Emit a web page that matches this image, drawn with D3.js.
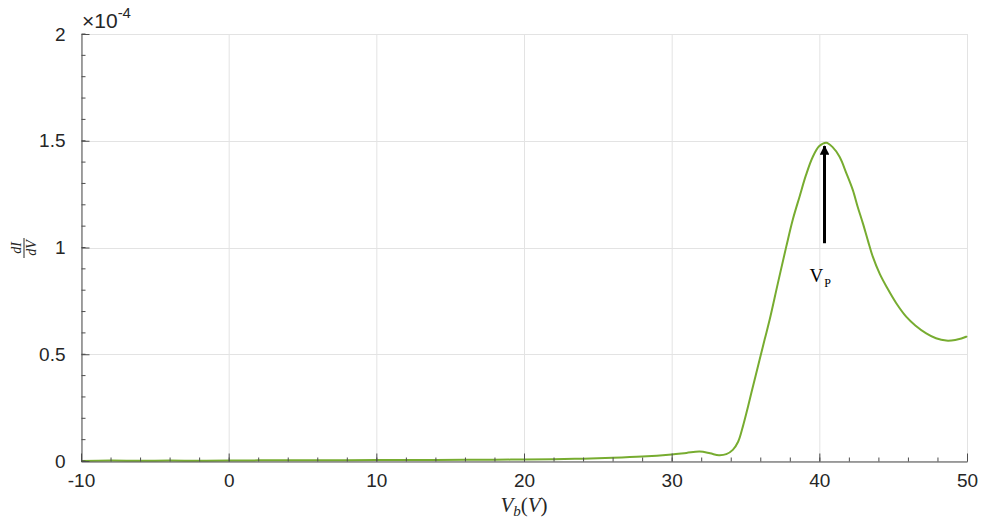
<!DOCTYPE html>
<html><head><meta charset="utf-8">
<script src="https://cdn.jsdelivr.net/npm/d3@7"></script>
<style>body{margin:0;background:#fff;} svg{display:block;}</style>
</head><body>
<svg id="chart" width="982" height="524"></svg>
<script>
// Bias voltage (V)
const vb = [-10,-8,-6,-4,-2,0,2,4,6,8,10,12,14,16,18,20,22,24,26,28,30,31,31.9,32.6,33.2,33.7,34.14,34.5,34.82,35.1,35.39,35.95,36.3,36.63,37.19,37.76,38.2,38.66,39.1,39.56,40.0,40.47,40.9,41.37,41.82,42.27,42.6,42.95,43.3,43.62,44.1,44.6,45.2,45.88,46.5,47.24,47.9,48.59,49.2,49.94,50];
// dI/dV in units of 1e-4
const didv = [0,0.002,0.001,0.002,0.001,0.002,0.003,0.003,0.004,0.004,0.005,0.005,0.005,0.006,0.006,0.007,0.008,0.011,0.015,0.021,0.031,0.038,0.044,0.036,0.027,0.032,0.052,0.09,0.161,0.235,0.317,0.473,0.57,0.66,0.832,1.004,1.13,1.238,1.34,1.425,1.475,1.491,1.47,1.425,1.35,1.269,1.19,1.113,1.03,0.957,0.875,0.81,0.74,0.676,0.635,0.598,0.575,0.564,0.567,0.582,0.585];
const xTicks = [-10,0,10,20,30,40,50];
const yTicks = [0,0.5,1,1.5,2];
const peakV = 40.35, arrowFrom = 1.02, arrowTo = 1.475;

const svg = d3.select("#chart");
const L = 81, R = 967, T = 34, B = 461;
const x = d3.scaleLinear().domain([-10,50]).range([L,R]);
const y = d3.scaleLinear().domain([0,2]).range([B,T]);
const axisCol = "#4d4d4d", txtCol = "#262626";
const sans = "Liberation Sans, Arial, sans-serif";
const serif = "Liberation Serif, Times New Roman, serif";

// grid
svg.append("g").selectAll("line").data(xTicks).join("line")
  .attr("x1",d=>x(d)+0.5).attr("x2",d=>x(d)+0.5).attr("y1",T).attr("y2",B)
  .attr("stroke","#e3e3e3").attr("stroke-width",1);
svg.append("g").selectAll("line").data(yTicks).join("line")
  .attr("y1",d=>Math.round(y(d))+0.5).attr("y2",d=>Math.round(y(d))+0.5).attr("x1",L).attr("x2",R)
  .attr("stroke","#e3e3e3").attr("stroke-width",1);

// line
svg.append("path").datum(vb.map((v,i)=>[v,didv[i]]))
  .attr("fill","none").attr("stroke","#77AC30").attr("stroke-width",2)
  .attr("d", d3.line().x(d=>x(d[0])).y(d=>y(d[1])).curve(d3.curveCatmullRom.alpha(0.5)));

// axes (ticks inside, MATLAB style)
const minorX = d3.range(-10,50.01,2);
const minorY = d3.range(0,2.001,0.1);
const xa = svg.append("g").attr("transform",`translate(0,${B+0.5})`)
  .call(d3.axisBottom(x).tickValues(xTicks).tickSizeInner(-8).tickSizeOuter(0).tickPadding(12).tickFormat(d=>String(d)));
xa.select(".domain").attr("stroke",axisCol);
xa.selectAll(".tick line").attr("stroke",axisCol);
xa.selectAll("text").attr("font-family",sans).attr("font-size",19).attr("fill",txtCol);
xa.append("g").selectAll("line").data(minorX).join("line")
  .attr("x1",d=>x(d)+0.5).attr("x2",d=>x(d)+0.5).attr("y1",0).attr("y2",-4).attr("stroke",axisCol);

const ya = svg.append("g").attr("transform",`translate(${L+0.5},0)`)
  .call(d3.axisLeft(y).tickValues(yTicks).tickSizeInner(-8).tickSizeOuter(0).tickPadding(16).tickFormat(d=>String(d)));
ya.select(".domain").attr("stroke",axisCol);
ya.selectAll(".tick line").attr("stroke",axisCol);
ya.selectAll("text").attr("font-family",sans).attr("font-size",19).attr("fill",txtCol);
ya.append("g").selectAll("line").data(minorY).join("line")
  .attr("y1",d=>y(d)).attr("y2",d=>y(d)).attr("x1",0).attr("x2",4).attr("stroke",axisCol);

// exponent
const ex = svg.append("text").attr("x",L+1).attr("y",28).attr("font-family",sans)
  .attr("font-size",21).attr("fill",txtCol);
ex.append("tspan").text("×10");
ex.append("tspan").attr("font-size",15).attr("dy",-10).text("-4");

// x label
const xl = svg.append("text").attr("x",(L+R)/2).attr("y",512).attr("text-anchor","middle")
  .attr("font-family",serif).attr("font-size",21).attr("fill",txtCol);
xl.append("tspan").attr("font-style","italic").text("V");
xl.append("tspan").attr("font-style","italic").attr("font-size",15).attr("dy",4).text("b");
xl.append("tspan").attr("dy",-4).text("(");
xl.append("tspan").attr("font-style","italic").text("V");
xl.append("tspan").text(")");

// y label: fraction dI/dV rotated
const yl = svg.append("g").attr("transform","translate(24,248) rotate(-90)")
  .attr("font-family",serif).attr("fill",txtCol).attr("font-style","italic");
yl.append("text").attr("x",0).attr("y",-3).attr("text-anchor","middle").attr("font-size",14).text("dI");
yl.append("line").attr("x1",-10).attr("x2",10).attr("y1",0).attr("y2",0).attr("stroke",txtCol).attr("stroke-width",1);
yl.append("text").attr("x",0).attr("y",12).attr("text-anchor","middle").attr("font-size",14).text("dV");

// arrow annotation
svg.append("defs").append("marker").attr("id","ah").attr("viewBox","0 0 10 10").attr("refX",9).attr("refY",5)
  .attr("markerWidth",3.2).attr("markerHeight",3.2).attr("orient","auto")
  .append("path").attr("d","M0,0 L10,5 L0,10 z").attr("fill","#000");
svg.append("line").attr("x1",x(peakV)).attr("x2",x(peakV)).attr("y1",y(arrowFrom)).attr("y2",y(arrowTo))
  .attr("stroke","#000").attr("stroke-width",3).attr("marker-end","url(#ah)");
const vp = svg.append("text").attr("x",x(peakV)-15).attr("y",282)
  .attr("font-family",serif).attr("font-size",19).attr("fill","#000");
vp.append("tspan").text("V");
vp.append("tspan").attr("font-size",12).attr("dy",5).attr("dx",1).text("P");
</script>
</body></html>
